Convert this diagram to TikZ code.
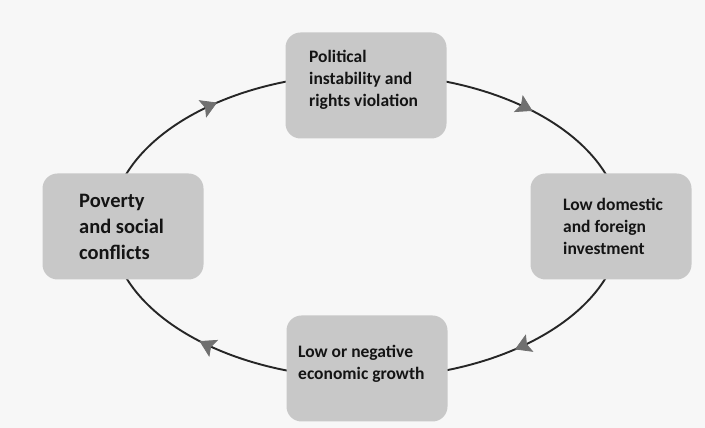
\documentclass[tikz,border=0pt]{standalone}
\usepackage{fontspec}
\setmainfont{Carlito}
\usetikzlibrary{arrows.meta,decorations.markings,backgrounds,calc}
\definecolor{bg}{RGB}{247,247,247}
\definecolor{boxfill}{RGB}{200,200,200}
\definecolor{linec}{RGB}{38,38,38}
\definecolor{tipc}{RGB}{112,112,112}
\definecolor{txt}{RGB}{20,20,20}
\begin{document}
\begin{tikzpicture}[x=1pt,y=1pt,
  box/.style={draw=none, fill=boxfill, rounded corners=15pt, minimum width=161pt, minimum height=106pt, inner sep=0pt},
  lbl/.style={anchor=base west, align=left, inner sep=0pt, text=txt, font=\bfseries\fontsize{17.5}{22}\selectfont},
  biglbl/.style={lbl, font=\bfseries\fontsize{20.5}{26}\selectfont},
  conn/.style={draw=linec, line width=1.9pt, postaction={decorate},
    decoration={markings, mark=at position 0.53 with {\arrow{Stealth[length=16pt,width=19pt,inset=3pt,color=tipc,line width=0.8pt]}}}}
]
\useasboundingbox (0,0) rectangle (705,428);
\coordinate (o) at (366,202);
% boxes
\node[box] (pov) at (123,201.5) {};
\node[box] (pol) at (366,342.5) {};
\node[box] (inv) at (611,201.5) {};
\node[box] (gro) at (367,59.5) {};
% labels (base = last line)
\node[biglbl] (povt) at (79,168) {Poverty\\and social\\conflicts};
\node[lbl] (polt) at (309,321) {Political\\instability and\\rights violation};
\node[lbl] (invt) at (563,173) {Low domestic\\and foreign\\investment};
\node[lbl] (grot) at (298,48) {Low or negative\\economic growth};
\begin{pgfonlayer}{background}
\fill[bg] (0,0) rectangle (705,428);
\draw[conn] ($(o)+(180:255 and 152)$) arc[start angle=180, end angle=90, x radius=255, y radius=152];
\draw[conn] ($(o)+(90:255 and 152)$) arc[start angle=90, end angle=0, x radius=255, y radius=152];
\draw[conn] ($(o)+(0:255 and 152)$) arc[start angle=0, end angle=-90, x radius=255, y radius=152];
\draw[conn] ($(o)+(-90:255 and 152)$) arc[start angle=-90, end angle=-180, x radius=255, y radius=152];
\end{pgfonlayer}
\end{tikzpicture}
\end{document}
